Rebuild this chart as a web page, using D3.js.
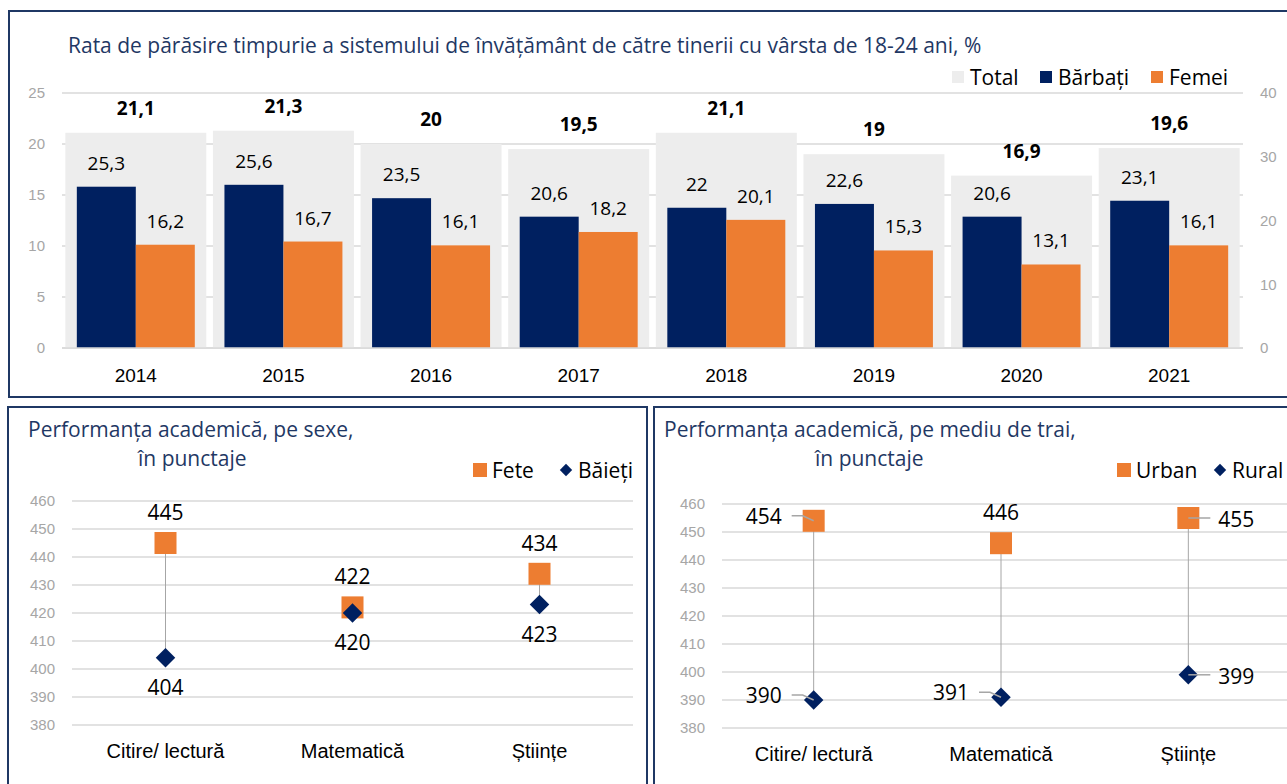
<!DOCTYPE html>
<html>
<head>
<meta charset="utf-8">
<script src="https://cdn.jsdelivr.net/npm/d3@7"></script>
<style>
  html, body { margin: 0; padding: 0; background: #fff; overflow: hidden; }
  svg { display: block; font-family: "Open Sans", "Noto Sans", sans-serif; }
</style>
</head>
<body>
<svg id="chart" width="1287" height="784"></svg>
<script>
// ---- data: early school leaving ----
const years = ['2014', '2015', '2016', '2017', '2018', '2019', '2020', '2021'];
const totalRate = [21.1, 21.3, 20, 19.5, 21.1, 19, 16.9, 19.6];
const menRate = [25.3, 25.6, 23.5, 20.6, 22, 22.6, 20.6, 23.1];
const womenRate = [16.2, 16.7, 16.1, 18.2, 20.1, 15.3, 13.1, 16.1];
const leftTicks = [0, 5, 10, 15, 20, 25];
const rightTicks = [0, 10, 20, 30, 40];

// ---- data: academic performance ----
const subjects = ['Citire/ lectură', 'Matematică', 'Științe'];
const girlsScore = [445, 422, 434];
const boysScore = [404, 420, 423];
const urbanScore = [454, 446, 455];
const ruralScore = [390, 391, 399];
const scoreTicks = [380, 390, 400, 410, 420, 430, 440, 450, 460];

const NAVY = '#002060';
const ORANGE = '#ED7D31';
const TOTAL_GREY = '#EDEDED';
const GRID = '#D9D9D9';
const TICK_TEXT = '#A6A6A6';
const TITLE = '#1F3864';
const BORDER = '#1F3864';

const fmt = v => String(v).replace('.', ',');

const svg = d3.select('#chart');

// panel frames
svg.append('rect').attr('x', 9).attr('y', 11).attr('width', 1300).attr('height', 386)
  .attr('fill', 'none').attr('stroke', BORDER).attr('stroke-width', 2);
svg.append('rect').attr('x', 8).attr('y', 407).attr('width', 639).attr('height', 400)
  .attr('fill', 'none').attr('stroke', BORDER).attr('stroke-width', 2);
svg.append('rect').attr('x', 654).attr('y', 407).attr('width', 660).attr('height', 400)
  .attr('fill', 'none').attr('stroke', BORDER).attr('stroke-width', 2);

// ================= top chart =================
(function drawTop() {
  const x0 = 62, x1 = 1243, yTop = 93, yBot = 348;

  svg.append('text')
    .attr('x', 68).attr('y', 53)
    .attr('fill', TITLE).style('font-size', '21px')
    .text('Rata de părăsire timpurie a sistemului de învățământ de către tinerii cu vârsta de 18-24 ani, %');

  const x = d3.scaleBand().domain(years).range([x0, x1])
    .paddingInner(0.045).paddingOuter(0.0225);
  const xSub = d3.scaleBand().domain(['m', 'w']).range([0, x.bandwidth()])
    .paddingInner(0).paddingOuter(0.195);
  const yL = d3.scaleLinear().domain([0, 25]).range([yBot, yTop]);
  const yR = d3.scaleLinear().domain([0, 40]).range([yBot, yTop]);

  const g = svg.append('g');

  // gridlines
  g.selectAll('.grid').data(leftTicks).enter().append('line')
    .attr('x1', x0).attr('x2', x1)
    .attr('y1', d => yL(d)).attr('y2', d => yL(d))
    .attr('stroke', GRID).attr('stroke-width', 1.5);

  // left axis
  const axL = g.append('g').attr('transform', `translate(${x0 - 17},0)`)
    .call(d3.axisLeft(yL).tickValues(leftTicks).tickSize(0).tickPadding(0));
  axL.select('.domain').remove();
  axL.selectAll('text').attr('fill', TICK_TEXT).style('font-size', '15px').style('font-family', null);

  // right axis
  const axR = g.append('g').attr('transform', `translate(${x1 + 17},0)`)
    .call(d3.axisRight(yR).tickValues(rightTicks).tickSize(0).tickPadding(0));
  axR.select('.domain').remove();
  axR.selectAll('text').attr('fill', TICK_TEXT).style('font-size', '15px').style('font-family', null);

  // total bars (left axis)
  g.selectAll('.total').data(years).enter().append('rect')
    .attr('x', d => x(d)).attr('width', x.bandwidth())
    .attr('y', (d, i) => yL(totalRate[i]))
    .attr('height', (d, i) => yBot - yL(totalRate[i]))
    .attr('fill', TOTAL_GREY);

  // men / women bars (right axis)
  const series = [
    { key: 'm', values: menRate, color: NAVY },
    { key: 'w', values: womenRate, color: ORANGE }
  ];
  series.forEach(s => {
    g.selectAll('.bar-' + s.key).data(years).enter().append('rect')
      .attr('x', d => x(d) + xSub(s.key)).attr('width', xSub.bandwidth())
      .attr('y', (d, i) => yR(s.values[i]))
      .attr('height', (d, i) => yBot - yR(s.values[i]))
      .attr('fill', s.color);
    g.selectAll('.lab-' + s.key).data(years).enter().append('text')
      .attr('x', d => x(d) + xSub(s.key) + xSub.bandwidth() / 2)
      .attr('y', (d, i) => yR(s.values[i]) - 17)
      .attr('text-anchor', 'middle').style('font-size', '19px').attr('fill', '#000')
      .text((d, i) => fmt(s.values[i]));
  });

  // baseline on top
  g.append('line').attr('x1', x0).attr('x2', x1).attr('y1', yBot).attr('y2', yBot)
    .attr('stroke', GRID).attr('stroke-width', 1.5);

  // total labels
  g.selectAll('.lab-total').data(years).enter().append('text')
    .attr('x', d => x(d) + x.bandwidth() / 2)
    .attr('y', (d, i) => yL(totalRate[i]) - 18)
    .attr('text-anchor', 'middle').style('font-size', '19px').style('font-weight', 'bold')
    .text((d, i) => fmt(totalRate[i]));

  // x axis labels
  const axX = g.append('g').attr('transform', `translate(0,${yBot + 34})`)
    .call(d3.axisBottom(x).tickSize(0).tickPadding(0));
  axX.select('.domain').remove();
  axX.selectAll('text').attr('fill', '#000').style('font-size', '19px').style('font-family', null)
    .attr('y', 0).attr('dy', 0);

  // legend
  const legend = [
    { name: 'Total', color: TOTAL_GREY, x: 952 },
    { name: 'Bărbați', color: NAVY, x: 1040 },
    { name: 'Femei', color: ORANGE, x: 1151 }
  ];
  const lg = svg.append('g');
  legend.forEach(l => {
    lg.append('rect').attr('x', l.x).attr('y', 71).attr('width', 12).attr('height', 12).attr('fill', l.color);
    lg.append('text').attr('x', l.x + 18).attr('y', 85).style('font-size', '21px').text(l.name);
  });
})();

// ================= bottom charts =================
function drawDumbbell(cfg) {
  const y = d3.scaleLinear().domain([380, 460]).range([cfg.yBot, cfg.yTop]);
  const x = d3.scaleBand().domain(subjects).range([cfg.x0, cfg.x1]);
  const cx = d => x(d) + x.bandwidth() / 2;
  const g = svg.append('g');

  g.append('text').attr('x', cfg.titleX).attr('y', 437)
    .attr('fill', TITLE).style('font-size', '21px').text(cfg.title);
  g.append('text').attr('x', cfg.subX).attr('y', 466)
    .attr('fill', TITLE).style('font-size', '21px').text('în punctaje');

  // gridlines
  g.selectAll('.grid').data(scoreTicks).enter().append('line')
    .attr('x1', cfg.gridStart).attr('x2', cfg.gridEnd)
    .attr('y1', d => y(d)).attr('y2', d => y(d))
    .attr('stroke', GRID).attr('stroke-width', 1.5);

  const ax = g.append('g').attr('transform', `translate(${cfg.gridStart - 17},0)`)
    .call(d3.axisLeft(y).tickValues(scoreTicks).tickSize(0).tickPadding(0));
  ax.select('.domain').remove();
  ax.selectAll('text').attr('fill', TICK_TEXT).style('font-size', '15px').style('font-family', null);

  const axX = g.append('g').attr('transform', `translate(0,${cfg.yBot + 33})`)
    .call(d3.axisBottom(x).tickSize(0).tickPadding(0));
  axX.select('.domain').remove();
  axX.selectAll('text').attr('fill', '#000').style('font-size', '20px').style('font-family', null)
    .attr('y', 0).attr('dy', 0);

  // high-low lines
  g.selectAll('.hl').data(subjects).enter().append('line')
    .attr('x1', cx).attr('x2', cx)
    .attr('y1', (d, i) => y(cfg.hi[i])).attr('y2', (d, i) => y(cfg.lo[i]))
    .attr('stroke', '#A6A6A6').attr('stroke-width', 1);

  // markers
  const sq = 22;
  g.selectAll('.sq').data(subjects).enter().append('rect')
    .attr('x', d => cx(d) - sq / 2).attr('width', sq)
    .attr('y', (d, i) => y(cfg.hi[i]) - sq / 2).attr('height', sq)
    .attr('fill', ORANGE);
  const diamond = d3.symbol().type(d3.symbolDiamond2).size(2 * 11 * 11);
  g.selectAll('.dm').data(subjects).enter().append('path')
    .attr('transform', (d, i) => `translate(${cx(d)},${y(cfg.lo[i])})`)
    .attr('d', diamond).attr('fill', NAVY);

  // labels
  const place = (vals, sides) => {
    vals.forEach((v, i) => {
      const px = cx(subjects[i]), py = y(v);
      const side = sides[i];
      const t = g.append('text').style('font-size', '21px').attr('fill', '#000').text(v);
      if (side === 'top' || side === 'bottom') {
        t.attr('x', px).attr('text-anchor', 'middle')
          .attr('y', side === 'top' ? py - 23 : py + 37);
      } else if (side === 'left') {
        t.attr('x', px - 32).attr('y', py + 3).attr('text-anchor', 'end');
        g.append('path')
          .attr('d', `M${px - 22},${py - 5}H${px - 11}L${px},${py}`)
          .attr('fill', 'none').attr('stroke', '#A6A6A6').attr('stroke-width', 1.5);
      } else {
        t.attr('x', px + 30).attr('y', py + 9).attr('text-anchor', 'start');
        g.append('line')
          .attr('x1', px).attr('y1', py).attr('x2', px + 22).attr('y2', py)
          .attr('stroke', '#A6A6A6').attr('stroke-width', 1.5);
      }
    });
  };
  place(cfg.hi, cfg.hiSide);
  place(cfg.lo, cfg.loSide);

  // legend
  g.append('rect').attr('x', cfg.legX).attr('y', 463).attr('width', 14).attr('height', 14).attr('fill', ORANGE);
  g.append('text').attr('x', cfg.legX + 19).attr('y', 478).style('font-size', '21px').text(cfg.names[0]);
  g.append('path').attr('transform', `translate(${cfg.legX2},470)`)
    .attr('d', d3.symbol().type(d3.symbolDiamond2).size(2 * 7 * 7)).attr('fill', NAVY);
  g.append('text').attr('x', cfg.legX2 + 12).attr('y', 478).style('font-size', '21px').text(cfg.names[1]);
}

drawDumbbell({
  title: 'Performanța academică, pe sexe,', titleX: 28, subX: 138,
  x0: 72, x1: 633, gridStart: 72, gridEnd: 633, yTop: 501, yBot: 725,
  hi: girlsScore, lo: boysScore,
  hiSide: ['top', 'top', 'top'], loSide: ['bottom', 'bottom', 'bottom'],
  names: ['Fete', 'Băieți'], legX: 473, legX2: 566
});

drawDumbbell({
  title: 'Performanța academică, pe mediu de trai,', titleX: 664, subX: 815,
  x0: 720, x1: 1282, gridStart: 722, gridEnd: 1300, yTop: 504, yBot: 728,
  hi: urbanScore, lo: ruralScore,
  hiSide: ['left', 'top', 'right'], loSide: ['left', 'left', 'right'],
  names: ['Urban', 'Rural'], legX: 1117, legX2: 1220
});
</script>
</body>
</html>
